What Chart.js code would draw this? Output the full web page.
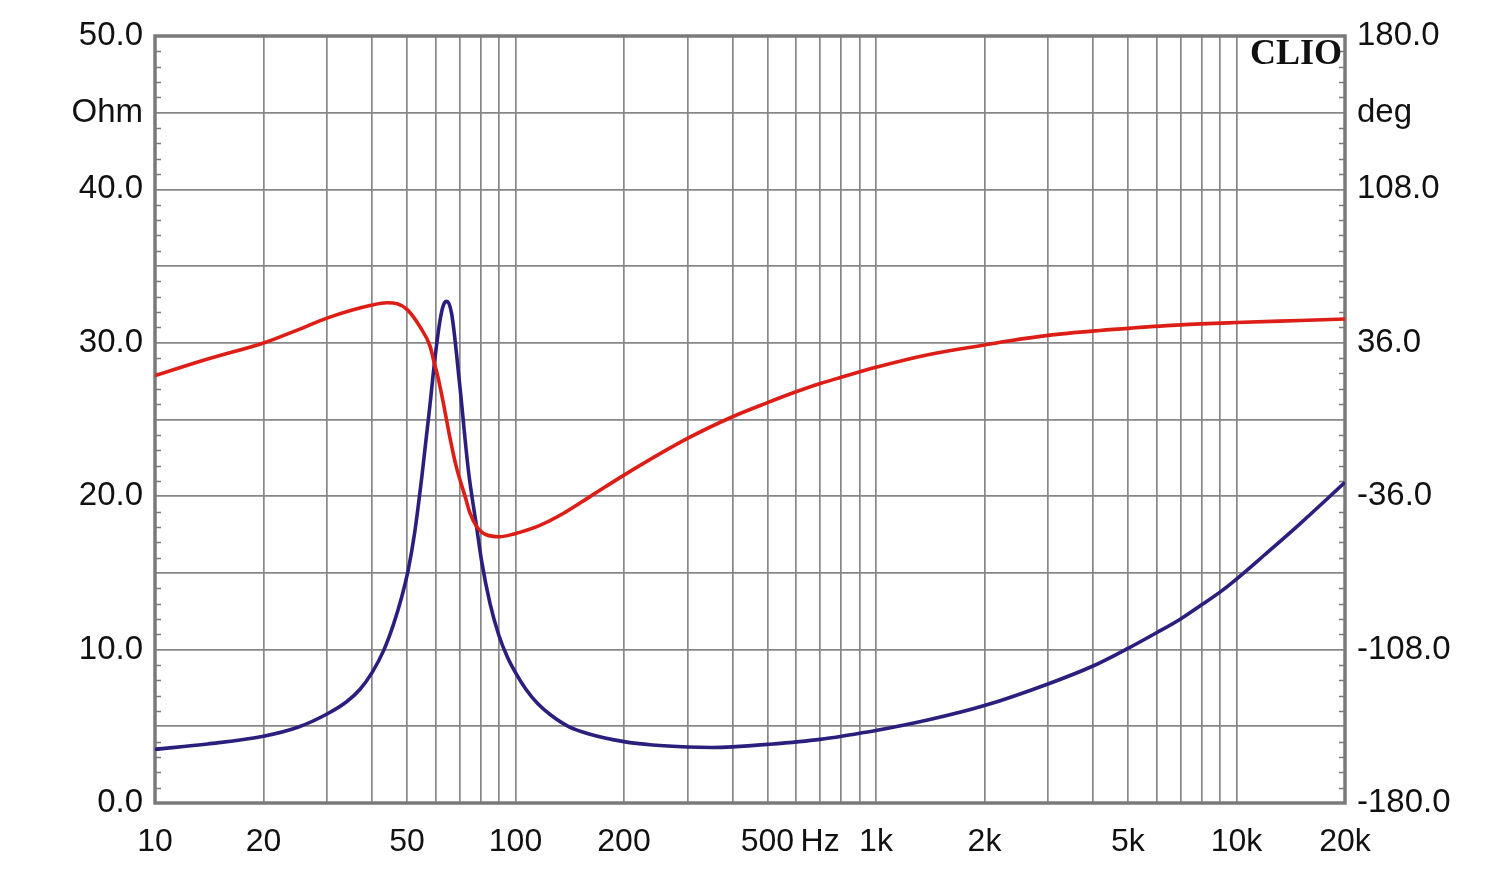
<!DOCTYPE html>
<html>
<head>
<meta charset="utf-8">
<script src="https://cdn.jsdelivr.net/npm/chart.js@4.4.1/dist/chart.umd.min.js"></script>
<style>
  html, body { margin: 0; padding: 0; background: #ffffff; }
  #wrap { width: 1500px; height: 877px; }
</style>
</head>
<body>
<div id="wrap"><canvas id="c" width="1500" height="877"></canvas></div>
<script>
// Impedance magnitude (Ohm, left axis)
const impFreq = [10, 14, 20, 25, 30, 34, 37, 40, 43, 45.8, 48.3, 50.4, 52.5, 55, 58, 60, 62, 63.5, 64.5, 66.5, 70, 74, 78, 80.5, 85, 90, 95, 100, 107, 115, 125, 140, 160, 200, 240, 300, 350, 400, 500, 700, 850, 1000, 1400, 2000, 3000, 4000, 5000, 6000, 7000, 8000, 9000, 10000, 12000, 15000, 20000];
const impOhm  = [3.5, 3.85, 4.35, 4.95, 5.8, 6.6, 7.4, 8.5, 9.9, 11.6, 13.4, 15.2, 17.6, 21.3, 26.1, 29.3, 31.7, 32.6, 32.7, 31.9, 27.3, 21.7, 18.0, 15.8, 13.0, 10.9, 9.5, 8.5, 7.4, 6.5, 5.75, 5.0, 4.5, 4.0, 3.78, 3.65, 3.62, 3.66, 3.82, 4.15, 4.45, 4.72, 5.42, 6.35, 7.76, 8.93, 10.08, 11.1, 12.0, 12.92, 13.75, 14.6, 16.2, 18.2, 20.9];

// Impedance phase (deg, right axis)
const phaseFreq = [10, 14, 20, 25, 30, 40, 44, 47, 50, 54.3, 58, 59.4, 60.9, 63.1, 65.7, 68.5, 72.5, 74.8, 78, 83, 90.5, 99, 114.6, 136, 161, 200, 300, 400, 500, 600, 700, 800, 1000, 1383, 2000, 2355, 3000, 4180, 5100, 7000, 10000, 15000, 20000];
const phaseDeg  = [20.6, 28.4, 35.9, 42.2, 47.6, 53.7, 54.8, 54.3, 51.7, 43.6, 34.2, 27.1, 20.1, 7.6, -8.0, -22.1, -36.2, -44.0, -50.2, -54.1, -55.0, -53.7, -50.3, -44.0, -36.2, -26.1, -8.9, 1.3, 7.9, 13.0, 16.9, 19.8, 24.5, 30.3, 35.0, 37.0, 39.5, 41.8, 42.9, 44.4, 45.5, 46.5, 47.2];

// Axis ticks and labels
const xGridValues = [10,20,30,40,50,60,70,80,90,100,200,300,400,500,600,700,800,900,1000,2000,3000,4000,5000,6000,7000,8000,9000,10000,20000];
const xLabelValues = [10, 20, 50, 100, 200, 500, 700, 1000, 2000, 5000, 10000, 20000];
const xLabelTexts  = ['10', '20', '50', '100', '200', '500', 'Hz', '1k', '2k', '5k', '10k', '20k'];
const leftUnit = 'Ohm';
const rightUnit = 'deg';
const brandText = 'CLIO';

const impData = impFreq.map((f, i) => ({ x: f, y: impOhm[i] }));
const phaseData = phaseFreq.map((f, i) => ({ x: f, y: phaseDeg[i] }));

const FONT = '"Liberation Sans", Arial, sans-serif';
const GRID = '#878787';

const framePlugin = {
  id: 'frame',
  beforeDatasetsDraw(chart) {
    const { ctx, chartArea: a, scales } = chart;
    ctx.save();
    // minor ticks every 1 Ohm on both side edges
    ctx.strokeStyle = '#7a7a7a';
    ctx.lineWidth = 1.5;
    const yl = scales.y;
    for (let v = 0; v <= 50; v++) {
      if (v % 5 === 0) continue;
      const py = Math.round(yl.getPixelForValue(v)) + 0.5;
      ctx.beginPath();
      ctx.moveTo(a.left, py); ctx.lineTo(a.left + 6, py);
      ctx.moveTo(a.right - 6, py); ctx.lineTo(a.right, py);
      ctx.stroke();
    }
    // frame
    ctx.strokeStyle = '#7a7a7a';
    ctx.lineWidth = 3.5;
    ctx.strokeRect(a.left, a.top, a.right - a.left, a.bottom - a.top);
    ctx.restore();
  },
  afterDraw(chart) {
    const { ctx, chartArea: a } = chart;
    ctx.save();
    ctx.fillStyle = '#111';
    ctx.font = 'bold 36px "Liberation Serif", "Times New Roman", serif';
    ctx.textAlign = 'right';
    ctx.textBaseline = 'top';
    ctx.fillText(brandText, a.right - 3, a.top + 1);
    ctx.restore();
  }
};

new Chart(document.getElementById('c'), {
  type: 'line',
  data: {
    datasets: [
      {
        label: 'Phase',
        data: phaseData,
        yAxisID: 'y2',
        borderColor: '#dc1e16',
        borderWidth: 3.6,
        pointRadius: 0,
        cubicInterpolationMode: 'monotone',
        fill: false
      },
      {
        label: 'Impedance',
        data: impData,
        yAxisID: 'y',
        borderColor: '#2b1f7e',
        borderWidth: 3.6,
        pointRadius: 0,
        cubicInterpolationMode: 'monotone',
        fill: false
      }
    ]
  },
  options: {
    responsive: false,
    animation: false,
    devicePixelRatio: 1,
    layout: { padding: { top: 36, left: 0, right: 0, bottom: 0 } },
    plugins: { legend: { display: false }, tooltip: { enabled: false }, title: { display: false } },
    scales: {
      x: {
        type: 'logarithmic',
        position: 'bottom',
        min: 10,
        max: 20000,
        afterBuildTicks(scale) { scale.ticks = xGridValues.map(v => ({ value: v })); },
        afterFit(scale) { scale.height = 74; },
        ticks: {
          autoSkip: false,
          maxRotation: 0,
          minRotation: 0,
          padding: 20,
          color: '#111',
          font: { family: FONT, size: 32 },
          callback(value) {
            const i = xLabelValues.indexOf(value);
            return i >= 0 ? xLabelTexts[i] : '';
          }
        },
        grid: { color: GRID, lineWidth: 1.7, drawTicks: false },
        border: { display: false }
      },
      y: {
        type: 'linear',
        position: 'left',
        min: 0,
        max: 50,
        afterFit(scale) { scale.width = 155; },
        ticks: {
          stepSize: 5,
          padding: 12,
          color: '#111',
          font: { family: FONT, size: 33 },
          callback(value) {
            if (value === 45) return leftUnit;
            return value % 10 === 0 ? value.toFixed(1) : '';
          }
        },
        grid: { color: GRID, lineWidth: 1.7, drawTicks: false },
        border: { display: false }
      },
      y2: {
        type: 'linear',
        position: 'right',
        min: -180,
        max: 180,
        afterFit(scale) { scale.width = 155; },
        ticks: {
          stepSize: 36,
          padding: 12,
          color: '#111',
          font: { family: FONT, size: 33 },
          callback(value) {
            const v = Math.round(value);
            if (v === 144) return rightUnit;
            return (v + 180) % 72 === 0 ? v.toFixed(1) : '';
          }
        },
        grid: { drawOnChartArea: false, drawTicks: false },
        border: { display: false }
      }
    }
  },
  plugins: [framePlugin]
});
</script>
</body>
</html>
